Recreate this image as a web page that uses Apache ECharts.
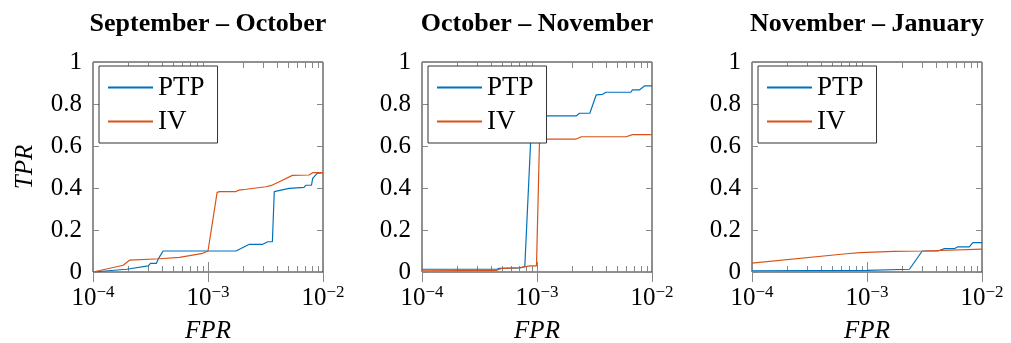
<!DOCTYPE html>
<html>
<head>
<meta charset="utf-8">
<script src="https://cdn.jsdelivr.net/npm/echarts@6/dist/echarts.min.js"></script>
<style>
html,body{margin:0;padding:0;background:#fff;}
#chart{width:1011px;height:343px;}
</style>
</head>
<body>
<div id="chart"></div>
<script>
// ---------- data ----------
const panelTitles = ['September – October', 'October – November', 'November – January'];
const seriesNames = ['PTP', 'IV'];
const yTicks = [0, 0.2, 0.4, 0.6, 0.8, 1];
const xMajorTicks = [1e-4, 1e-3, 1e-2];
const xMinorTicks = [2e-4, 3e-4, 4e-4, 5e-4, 6e-4, 7e-4, 8e-4, 9e-4,
                     2e-3, 3e-3, 4e-3, 5e-3, 6e-3, 7e-3, 8e-3, 9e-3];

// Panel 1: September – October
const sepOctPtpFpr = [1e-4, 1.96e-4, 2.04e-4, 3.02e-4, 3.16e-4, 3.55e-4, 3.72e-4, 4.07e-4, 1.75e-3, 2.29e-3, 2.99e-3, 3.31e-3, 3.63e-3, 3.77e-3, 5.08e-3, 6.84e-3, 7.08e-3, 7.94e-3, 8.13e-3, 8.91e-3, 1e-2];
const sepOctPtpTpr = [0, 0.013, 0.02, 0.029, 0.041, 0.041, 0.065, 0.1, 0.1, 0.132, 0.132, 0.144, 0.144, 0.383, 0.398, 0.403, 0.413, 0.413, 0.446, 0.47, 0.473];
const sepOctIvFpr = [1e-4, 1.83e-4, 2.09e-4, 3.8e-4, 5.66e-4, 9.0e-4, 1.0e-3, 1.2e-3, 1.26e-3, 1.75e-3, 1.86e-3, 2.14e-3, 2.19e-3, 3.19e-3, 3.31e-3, 3.63e-3, 4.17e-3, 5.42e-3, 7.59e-3, 8.13e-3, 1e-2];
const sepOctIvTpr = [0, 0.032, 0.057, 0.063, 0.07, 0.089, 0.1, 0.379, 0.383, 0.383, 0.39, 0.394, 0.403, 0.406, 0.414, 0.414, 0.43, 0.46, 0.462, 0.473, 0.473];

// Panel 2: October – November
const octNovPtpFpr = [1e-4, 4.47e-4, 4.68e-4, 7.08e-4, 7.83e-4, 8.13e-4, 8.79e-4, 9.33e-4, 2.19e-3, 2.34e-3, 2.88e-3, 3.27e-3, 3.72e-3, 3.98e-3, 6.55e-3, 6.76e-3, 7.76e-3, 8.59e-3, 1e-2];
const octNovPtpTpr = [0.013, 0.013, 0.017, 0.019, 0.025, 0.025, 0.613, 0.743, 0.743, 0.756, 0.756, 0.843, 0.846, 0.856, 0.856, 0.867, 0.867, 0.886, 0.886];
const octNovIvFpr = [1e-4, 4.47e-4, 4.9e-4, 7.08e-4, 8.71e-4, 9.9e-4, 1.05e-3, 1.12e-3, 2.19e-3, 2.43e-3, 5.96e-3, 6.76e-3, 1e-2];
const octNovIvTpr = [0.006, 0.008, 0.017, 0.021, 0.029, 0.029, 0.613, 0.633, 0.633, 0.644, 0.644, 0.654, 0.654];

// Panel 3: November – January
const novJanPtpFpr = [1e-4, 1e-3, 1.02e-3, 2.34e-3, 3.02e-3, 4.13e-3, 4.72e-3, 5.75e-3, 6.17e-3, 7.76e-3, 8.32e-3, 1e-2];
const novJanPtpTpr = [0.006, 0.008, 0.01, 0.013, 0.1, 0.1, 0.111, 0.111, 0.12, 0.12, 0.14, 0.14];
const novJanIvFpr = [1e-4, 6.61e-4, 8.71e-4, 1.70e-3, 3.16e-3, 1e-2];
const novJanIvTpr = [0.042, 0.087, 0.092, 0.098, 0.1, 0.109];

// ---------- layout / style ----------
const colors = { PTP: '#0072BD', IV: '#D95319' };
const gridLefts = [93, 422, 752];
const gridTop = 62, gridW = 230, gridH = 210;
const serif = 'Liberation Serif';

const panels = [
  { ptp: [sepOctPtpFpr, sepOctPtpTpr], iv: [sepOctIvFpr, sepOctIvTpr] },
  { ptp: [octNovPtpFpr, octNovPtpTpr], iv: [octNovIvFpr, octNovIvTpr] },
  { ptp: [novJanPtpFpr, novJanPtpTpr], iv: [novJanIvFpr, novJanIvTpr] }
];

function zip(xs, ys) { return xs.map((x, i) => [x, ys[i]]); }

const grids = [], xAxes = [], yAxes = [], series = [], titles = [], legends = [];

function expLabel(v) {
  const e = Math.round(Math.log10(v));
  return '{b|10}{s|' + (e < 0 ? '\u2212' + (-e) : e) + '}';
}

panels.forEach((p, i) => {
  grids.push({ left: gridLefts[i], top: gridTop, width: gridW, height: gridH,
    show: true, borderColor: '#222', borderWidth: 1, backgroundColor: '#fff',
    containLabel: false, outerBoundsMode: 'none' });

  titles.push({ text: panelTitles[i], left: gridLefts[i] + gridW / 2, top: 11, textAlign: 'center', padding: 0,
    textStyle: { fontFamily: serif, fontWeight: 'bold', fontSize: 26, color: '#000' } });

  // bottom x axis (labels)
  xAxes.push({ type: 'log', logBase: 10, gridIndex: i, min: xMajorTicks[0], max: xMajorTicks[2],
    position: 'bottom',
    axisLine: { show: false },
    axisTick: { show: true, inside: true, length: 10, lineStyle: { color: '#888', width: 1 } },
    splitLine: { show: false },
    axisLabel: { margin: 12, formatter: expLabel, color: '#000', fontFamily: serif,
      rich: { b: { fontFamily: serif, fontSize: 25, color: '#000' },
              s: { fontFamily: serif, fontSize: 17, color: '#000', padding: [0, 0, 12, 0] } } },
    name: 'FPR', nameLocation: 'middle', nameGap: 47,
    nameTextStyle: { fontFamily: serif, fontStyle: 'italic', fontSize: 25, color: '#000' } });
  // top x axis (ticks only)
  xAxes.push({ type: 'log', logBase: 10, gridIndex: i, min: xMajorTicks[0], max: xMajorTicks[2],
    position: 'top',
    axisLine: { show: false },
    axisTick: { show: true, inside: true, length: 10, lineStyle: { color: '#888', width: 1 } },
    splitLine: { show: false }, axisLabel: { show: false } });

  yAxes.push({ type: 'value', gridIndex: i, min: yTicks[0], max: yTicks[yTicks.length - 1], interval: 0.2,
    position: 'left',
    axisLine: { show: false },
    axisTick: { show: true, inside: true, length: 6, lineStyle: { color: '#888', width: 1 } },
    splitLine: { show: false },
    axisLabel: { margin: 11, color: '#000', fontFamily: serif, fontSize: 25,
      formatter: v => (Math.round(v * 10) / 10).toString() },
    name: i === 0 ? 'TPR' : '', nameLocation: 'middle', nameGap: 55, nameRotate: 90,
    nameTextStyle: { fontFamily: serif, fontStyle: 'italic', fontSize: 25, color: '#000' } });
  yAxes.push({ type: 'value', gridIndex: i, min: yTicks[0], max: yTicks[yTicks.length - 1], interval: 0.2,
    position: 'right',
    axisLine: { show: false },
    axisTick: { show: true, inside: true, length: 6, lineStyle: { color: '#888', width: 1 } },
    splitLine: { show: false }, axisLabel: { show: false } });

  const xi = i * 2, yi = i * 2;

  // minor ticks on the log axis, placed through the axis scale
  series.push({ type: 'custom', xAxisIndex: xi, yAxisIndex: yi, silent: true, z: 1,
    data: xMinorTicks.map(v => [v, 0]),
    renderItem: function (params, api) {
      const x = Math.round(api.coord([api.value(0), 0])[0]) + 0.5;
      const cs = params.coordSys;
      const yb = cs.y + cs.height, yt = cs.y;
      return { type: 'group', children: [
        { type: 'line', shape: { x1: x, y1: yb, x2: x, y2: yb - 6 }, style: { stroke: '#888', lineWidth: 1 } },
        { type: 'line', shape: { x1: x, y1: yt, x2: x, y2: yt + 6 }, style: { stroke: '#888', lineWidth: 1 } }
      ] };
    } });

  series.push({ name: 'PTP', type: 'line', xAxisIndex: xi, yAxisIndex: yi, data: zip(p.ptp[0], p.ptp[1]),
    symbol: 'none', showSymbol: false, legendIcon: 'none', color: colors.PTP,
    lineStyle: { color: colors.PTP, width: 1.2 }, z: 3, animation: false });
  series.push({ name: 'IV', type: 'line', xAxisIndex: xi, yAxisIndex: yi, data: zip(p.iv[0], p.iv[1]),
    symbol: 'none', showSymbol: false, legendIcon: 'none', color: colors.IV,
    lineStyle: { color: colors.IV, width: 1.2 }, z: 3, animation: false });

  legends.push({ data: seriesNames, orient: 'vertical', left: gridLefts[i] + 6, top: 66,
    backgroundColor: '#fff', borderColor: '#333', borderWidth: 1, borderRadius: 0,
    padding: [8, 13, 8, 8], itemGap: 7, itemWidth: 45, itemHeight: 14, selectedMode: false,
    itemStyle: { opacity: 0 },
    textStyle: { fontFamily: serif, fontSize: 27, color: '#000', lineHeight: 26 }, z: 10 });
});

const chart = echarts.init(document.getElementById('chart'), null, { renderer: 'canvas' });
chart.setOption({
  animation: false,
  backgroundColor: '#fff',
  textStyle: { fontFamily: serif },
  title: titles,
  legend: legends,
  grid: grids,
  xAxis: xAxes,
  yAxis: yAxes,
  series: series
});
</script>
</body>
</html>
